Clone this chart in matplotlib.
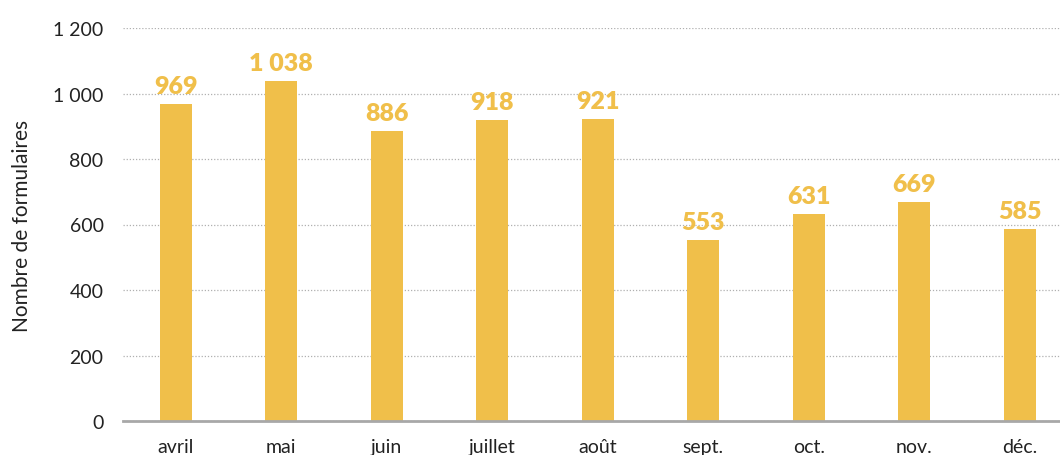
import matplotlib
matplotlib.use('Agg')
import matplotlib.pyplot as plt
import numpy as np

plt.rcParams['font.family'] = ['Lato', 'DejaVu Sans']

mois = ['avril', 'mai', 'juin', 'juillet', 'août', 'sept.', 'oct.', 'nov.', 'déc.']
formulaires = [969, 1038, 886, 918, 921, 553, 631, 669, 585]
yticks = [0, 200, 400, 600, 800, 1000, 1200]

couleur = '#F0BF4A'

def fmt(v):
    return '{:,}'.format(v).replace(',', ' ')

fig = plt.figure(figsize=(10.6, 4.56), dpi=100)
ax = fig.add_axes([123 / 1060, 34 / 456, 949.5 / 1060, 393 / 456])

x = np.arange(len(mois))
ax.bar(x, formulaires, width=0.30, color=couleur, zorder=3)

for xi, v in zip(x, formulaires):
    ax.annotate(fmt(v), (xi, v), xytext=(0, 5), textcoords='offset points',
                ha='center', va='bottom', color=couleur, fontsize=18,
                fontweight='heavy', clip_on=False)

ax.set_xlim(-0.5, len(mois) - 0.5)
ax.set_ylim(0, 1200)
ax.set_yticks(yticks)
ax.set_yticklabels([fmt(t) for t in yticks], fontsize=14, color='#222222')
ax.set_xticks(x)
ax.set_xticklabels(mois, fontsize=14, color='#222222')
ax.tick_params(axis='both', length=0)
ax.tick_params(axis='y', pad=14)
ax.tick_params(axis='x', pad=12)

ax.grid(axis='y', linestyle=(0, (1, 1.5)), color='#b0b0b0', linewidth=0.9, zorder=0)
for s in ['top', 'right', 'left']:
    ax.spines[s].set_visible(False)
ax.spines['bottom'].set_color('#a8a8a8')
ax.spines['bottom'].set_linewidth(2)
ax.spines['bottom'].set_zorder(4)

ax.set_ylabel('Nombre de formulaires', fontsize=15, color='#222222', labelpad=15)

fig.savefig('out.png', dpi=100)
